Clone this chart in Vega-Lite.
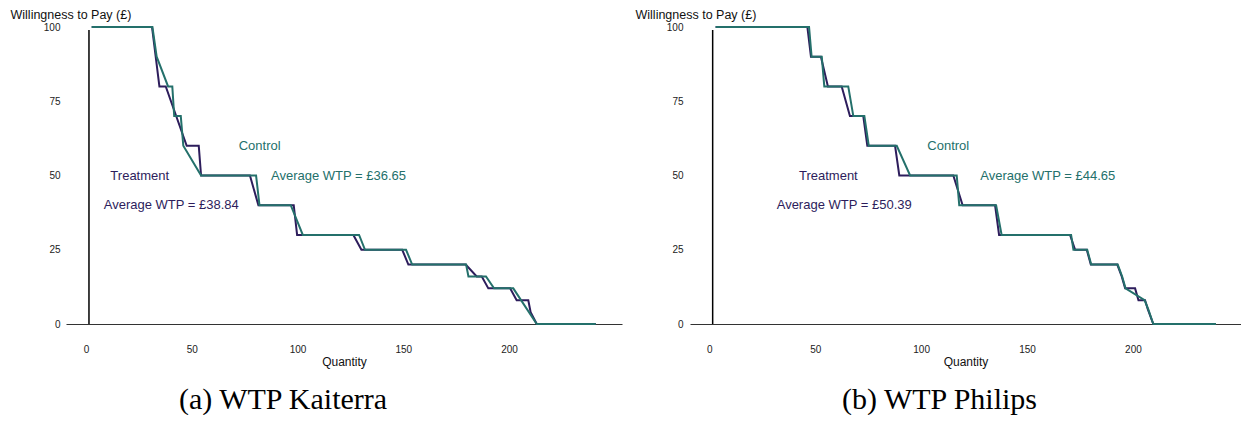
{
  "$schema": "https://vega.github.io/schema/vega-lite/v6.json",
  "background": "white",
  "padding": {"left": 10, "top": 8, "right": 0, "bottom": 0},
  "bounds": "flush",
  "spacing": 68,
  "config": {
    "view": {"stroke": null},
    "font": "Liberation Sans",
    "axis": {
      "grid": false,
      "ticks": false,
      "labelFontSize": 10,
      "labelColor": "#222222",
      "titleFontSize": 12.5,
      "titleFontWeight": "normal",
      "titleColor": "#111111"
    },
    "title": {"font": "Liberation Serif", "fontSize": 30, "fontWeight": "normal", "color": "#000000"}
  },
  "datasets": {
    "curves": [
      {"product": "Kaiterra", "group": "Treatment", "quantity": 2.7, "wtp": 100},
      {"product": "Kaiterra", "group": "Treatment", "quantity": 31.2, "wtp": 100},
      {"product": "Kaiterra", "group": "Treatment", "quantity": 34.7, "wtp": 80},
      {"product": "Kaiterra", "group": "Treatment", "quantity": 37.7, "wtp": 80},
      {"product": "Kaiterra", "group": "Treatment", "quantity": 47.6, "wtp": 60},
      {"product": "Kaiterra", "group": "Treatment", "quantity": 53.3, "wtp": 60},
      {"product": "Kaiterra", "group": "Treatment", "quantity": 54.4, "wtp": 50},
      {"product": "Kaiterra", "group": "Treatment", "quantity": 77.5, "wtp": 50},
      {"product": "Kaiterra", "group": "Treatment", "quantity": 81.5, "wtp": 40},
      {"product": "Kaiterra", "group": "Treatment", "quantity": 98.2, "wtp": 40},
      {"product": "Kaiterra", "group": "Treatment", "quantity": 99.8, "wtp": 30},
      {"product": "Kaiterra", "group": "Treatment", "quantity": 126.4, "wtp": 30},
      {"product": "Kaiterra", "group": "Treatment", "quantity": 130.2, "wtp": 25},
      {"product": "Kaiterra", "group": "Treatment", "quantity": 149.5, "wtp": 25},
      {"product": "Kaiterra", "group": "Treatment", "quantity": 152.4, "wtp": 20},
      {"product": "Kaiterra", "group": "Treatment", "quantity": 179.5, "wtp": 20},
      {"product": "Kaiterra", "group": "Treatment", "quantity": 184.7, "wtp": 16},
      {"product": "Kaiterra", "group": "Treatment", "quantity": 187.1, "wtp": 16},
      {"product": "Kaiterra", "group": "Treatment", "quantity": 190.2, "wtp": 12},
      {"product": "Kaiterra", "group": "Treatment", "quantity": 200.5, "wtp": 12},
      {"product": "Kaiterra", "group": "Treatment", "quantity": 203.6, "wtp": 8},
      {"product": "Kaiterra", "group": "Treatment", "quantity": 209.1, "wtp": 8},
      {"product": "Kaiterra", "group": "Treatment", "quantity": 210.2, "wtp": 4},
      {"product": "Kaiterra", "group": "Treatment", "quantity": 213.1, "wtp": 0},
      {"product": "Kaiterra", "group": "Treatment", "quantity": 241, "wtp": 0},

      {"product": "Kaiterra", "group": "Control", "quantity": 2.7, "wtp": 100},
      {"product": "Kaiterra", "group": "Control", "quantity": 31.4, "wtp": 100},
      {"product": "Kaiterra", "group": "Control", "quantity": 33.4, "wtp": 90},
      {"product": "Kaiterra", "group": "Control", "quantity": 38.8, "wtp": 80},
      {"product": "Kaiterra", "group": "Control", "quantity": 40.8, "wtp": 80},
      {"product": "Kaiterra", "group": "Control", "quantity": 41.7, "wtp": 70},
      {"product": "Kaiterra", "group": "Control", "quantity": 44.8, "wtp": 70},
      {"product": "Kaiterra", "group": "Control", "quantity": 46, "wtp": 60},
      {"product": "Kaiterra", "group": "Control", "quantity": 54.4, "wtp": 50},
      {"product": "Kaiterra", "group": "Control", "quantity": 80.4, "wtp": 50},
      {"product": "Kaiterra", "group": "Control", "quantity": 82, "wtp": 40},
      {"product": "Kaiterra", "group": "Control", "quantity": 96.8, "wtp": 40},
      {"product": "Kaiterra", "group": "Control", "quantity": 102.5, "wtp": 30},
      {"product": "Kaiterra", "group": "Control", "quantity": 129.1, "wtp": 30},
      {"product": "Kaiterra", "group": "Control", "quantity": 131.9, "wtp": 25},
      {"product": "Kaiterra", "group": "Control", "quantity": 151.3, "wtp": 25},
      {"product": "Kaiterra", "group": "Control", "quantity": 154.2, "wtp": 20},
      {"product": "Kaiterra", "group": "Control", "quantity": 179.7, "wtp": 20},
      {"product": "Kaiterra", "group": "Control", "quantity": 180.8, "wtp": 16},
      {"product": "Kaiterra", "group": "Control", "quantity": 189.1, "wtp": 16},
      {"product": "Kaiterra", "group": "Control", "quantity": 192.9, "wtp": 12},
      {"product": "Kaiterra", "group": "Control", "quantity": 202, "wtp": 12},
      {"product": "Kaiterra", "group": "Control", "quantity": 213.1, "wtp": 0},
      {"product": "Kaiterra", "group": "Control", "quantity": 241, "wtp": 0},

      {"product": "Philips", "group": "Treatment", "quantity": 3, "wtp": 100},
      {"product": "Philips", "group": "Treatment", "quantity": 46.3, "wtp": 100},
      {"product": "Philips", "group": "Treatment", "quantity": 48, "wtp": 90},
      {"product": "Philips", "group": "Treatment", "quantity": 52.7, "wtp": 90},
      {"product": "Philips", "group": "Treatment", "quantity": 56, "wtp": 80},
      {"product": "Philips", "group": "Treatment", "quantity": 62.5, "wtp": 80},
      {"product": "Philips", "group": "Treatment", "quantity": 66.4, "wtp": 70},
      {"product": "Philips", "group": "Treatment", "quantity": 72.7, "wtp": 70},
      {"product": "Philips", "group": "Treatment", "quantity": 74.6, "wtp": 60},
      {"product": "Philips", "group": "Treatment", "quantity": 87.7, "wtp": 60},
      {"product": "Philips", "group": "Treatment", "quantity": 89.7, "wtp": 50},
      {"product": "Philips", "group": "Treatment", "quantity": 115.2, "wtp": 50},
      {"product": "Philips", "group": "Treatment", "quantity": 119.6, "wtp": 40},
      {"product": "Philips", "group": "Treatment", "quantity": 134.9, "wtp": 40},
      {"product": "Philips", "group": "Treatment", "quantity": 136.8, "wtp": 30},
      {"product": "Philips", "group": "Treatment", "quantity": 170.3, "wtp": 30},
      {"product": "Philips", "group": "Treatment", "quantity": 172.7, "wtp": 25},
      {"product": "Philips", "group": "Treatment", "quantity": 178.2, "wtp": 25},
      {"product": "Philips", "group": "Treatment", "quantity": 180.1, "wtp": 20},
      {"product": "Philips", "group": "Treatment", "quantity": 192.6, "wtp": 20},
      {"product": "Philips", "group": "Treatment", "quantity": 194.7, "wtp": 16},
      {"product": "Philips", "group": "Treatment", "quantity": 196.3, "wtp": 12},
      {"product": "Philips", "group": "Treatment", "quantity": 201, "wtp": 12},
      {"product": "Philips", "group": "Treatment", "quantity": 202.6, "wtp": 8},
      {"product": "Philips", "group": "Treatment", "quantity": 205.7, "wtp": 8},
      {"product": "Philips", "group": "Treatment", "quantity": 207, "wtp": 5},
      {"product": "Philips", "group": "Treatment", "quantity": 209.6, "wtp": 0},
      {"product": "Philips", "group": "Treatment", "quantity": 239.2, "wtp": 0},

      {"product": "Philips", "group": "Control", "quantity": 3, "wtp": 100},
      {"product": "Philips", "group": "Control", "quantity": 47.1, "wtp": 100},
      {"product": "Philips", "group": "Control", "quantity": 48.3, "wtp": 90},
      {"product": "Philips", "group": "Control", "quantity": 53.1, "wtp": 90},
      {"product": "Philips", "group": "Control", "quantity": 54.3, "wtp": 80},
      {"product": "Philips", "group": "Control", "quantity": 65.6, "wtp": 80},
      {"product": "Philips", "group": "Control", "quantity": 68, "wtp": 70},
      {"product": "Philips", "group": "Control", "quantity": 73.2, "wtp": 70},
      {"product": "Philips", "group": "Control", "quantity": 75.3, "wtp": 60},
      {"product": "Philips", "group": "Control", "quantity": 88.5, "wtp": 60},
      {"product": "Philips", "group": "Control", "quantity": 94.8, "wtp": 50},
      {"product": "Philips", "group": "Control", "quantity": 116.8, "wtp": 50},
      {"product": "Philips", "group": "Control", "quantity": 118, "wtp": 40},
      {"product": "Philips", "group": "Control", "quantity": 135.4, "wtp": 40},
      {"product": "Philips", "group": "Control", "quantity": 138, "wtp": 30},
      {"product": "Philips", "group": "Control", "quantity": 170.8, "wtp": 30},
      {"product": "Philips", "group": "Control", "quantity": 171.9, "wtp": 25},
      {"product": "Philips", "group": "Control", "quantity": 178.4, "wtp": 25},
      {"product": "Philips", "group": "Control", "quantity": 180.3, "wtp": 20},
      {"product": "Philips", "group": "Control", "quantity": 192.8, "wtp": 20},
      {"product": "Philips", "group": "Control", "quantity": 194.9, "wtp": 16},
      {"product": "Philips", "group": "Control", "quantity": 196.5, "wtp": 12},
      {"product": "Philips", "group": "Control", "quantity": 205.5, "wtp": 8},
      {"product": "Philips", "group": "Control", "quantity": 207.2, "wtp": 5},
      {"product": "Philips", "group": "Control", "quantity": 209.6, "wtp": 0},
      {"product": "Philips", "group": "Control", "quantity": 239.2, "wtp": 0}
    ],
    "notes": [
      {"product": "Kaiterra", "group": "Treatment", "quantity": 25.4, "wtp": 50, "label": "Treatment"},
      {"product": "Kaiterra", "group": "Treatment", "quantity": 40.3, "wtp": 40, "label": "Average WTP = £38.84"},
      {"product": "Kaiterra", "group": "Control", "quantity": 82.1, "wtp": 60, "label": "Control"},
      {"product": "Kaiterra", "group": "Control", "quantity": 119.4, "wtp": 50, "label": "Average WTP = £36.65"},
      {"product": "Philips", "group": "Treatment", "quantity": 56.2, "wtp": 50, "label": "Treatment"},
      {"product": "Philips", "group": "Treatment", "quantity": 63.7, "wtp": 40, "label": "Average WTP = £50.39"},
      {"product": "Philips", "group": "Control", "quantity": 112.8, "wtp": 60, "label": "Control"},
      {"product": "Philips", "group": "Control", "quantity": 159.8, "wtp": 50, "label": "Average WTP = £44.65"}
    ],
    "yline": [
      {"product": "Kaiterra", "quantity": 1.4, "wtp": 0, "wtp_top": 99},
      {"product": "Philips", "quantity": 1.6, "wtp": 0, "wtp_top": 99}
    ]
  },
  "hconcat": [
    {
      "width": 556,
      "height": 297,
      "title": {"text": "(a) WTP Kaiterra", "orient": "bottom", "frame": "group", "anchor": "middle", "dx": -61, "offset": 18},
      "encoding": {
        "x": {"field": "quantity", "type": "quantitative", "scale": {"domain": [-9.46, 253.4], "nice": false, "zero": false},
          "axis": {"title": "Quantity", "values": [0, 50, 100, 150, 200], "domainColor": "#333333", "domainWidth": 1.2, "labelPadding": 20, "titlePadding": 2, "titleFontSize": 12}},
        "y": {"field": "wtp", "type": "quantitative", "scale": {"domain": [0, 100], "nice": false},
          "axis": {"title": "Willingness to Pay (£)", "values": [0, 25, 50, 75, 100], "domain": false, "labelPadding": 6, "titleAngle": 0, "titleAlign": "left", "titleBaseline": "middle", "titleX": -56, "titleY": -13}}
      },
      "layer": [
        {"data": {"name": "yline"}, "transform": [{"filter": "datum.product === 'Kaiterra'"}],
          "mark": {"type": "rule", "color": "#000000", "strokeWidth": 1.5},
          "encoding": {"y2": {"field": "wtp_top"}}},
        {"data": {"name": "curves"}, "transform": [{"filter": "datum.product === 'Kaiterra' && datum.group === 'Treatment'"}],
          "mark": {"type": "line", "color": "#2d1d5c", "strokeWidth": 2}},
        {"data": {"name": "curves"}, "transform": [{"filter": "datum.product === 'Kaiterra' && datum.group === 'Control'"}],
          "mark": {"type": "line", "color": "#24706b", "strokeWidth": 2}},
        {"data": {"name": "notes"}, "transform": [{"filter": "datum.product === 'Kaiterra'"}],
          "mark": {"type": "text", "fontSize": 13, "align": "center", "baseline": "middle"},
          "encoding": {"text": {"field": "label"},
            "color": {"field": "group", "type": "nominal", "scale": {"domain": ["Treatment", "Control"], "range": ["#2d1d5c", "#24706b"]}, "legend": null}}}
      ]
    },
    {
      "width": 551,
      "height": 297,
      "title": {"text": "(b) WTP Philips", "orient": "bottom", "frame": "group", "anchor": "middle", "dx": -26, "offset": 18},
      "encoding": {
        "x": {"field": "quantity", "type": "quantitative", "scale": {"domain": [-9.1, 251.0], "nice": false, "zero": false},
          "axis": {"title": "Quantity", "values": [0, 50, 100, 150, 200], "domainColor": "#333333", "domainWidth": 1.2, "labelPadding": 20, "titlePadding": 2, "titleFontSize": 12}},
        "y": {"field": "wtp", "type": "quantitative", "scale": {"domain": [0, 100], "nice": false},
          "axis": {"title": "Willingness to Pay (£)", "values": [0, 25, 50, 75, 100], "domain": false, "labelPadding": 7, "titleAngle": 0, "titleAlign": "left", "titleBaseline": "middle", "titleX": -55, "titleY": -13}}
      },
      "layer": [
        {"data": {"name": "yline"}, "transform": [{"filter": "datum.product === 'Philips'"}],
          "mark": {"type": "rule", "color": "#000000", "strokeWidth": 1.5},
          "encoding": {"y2": {"field": "wtp_top"}}},
        {"data": {"name": "curves"}, "transform": [{"filter": "datum.product === 'Philips' && datum.group === 'Treatment'"}],
          "mark": {"type": "line", "color": "#2d1d5c", "strokeWidth": 2}},
        {"data": {"name": "curves"}, "transform": [{"filter": "datum.product === 'Philips' && datum.group === 'Control'"}],
          "mark": {"type": "line", "color": "#24706b", "strokeWidth": 2}},
        {"data": {"name": "notes"}, "transform": [{"filter": "datum.product === 'Philips'"}],
          "mark": {"type": "text", "fontSize": 13, "align": "center", "baseline": "middle"},
          "encoding": {"text": {"field": "label"},
            "color": {"field": "group", "type": "nominal", "scale": {"domain": ["Treatment", "Control"], "range": ["#2d1d5c", "#24706b"]}, "legend": null}}}
      ]
    }
  ]
}
